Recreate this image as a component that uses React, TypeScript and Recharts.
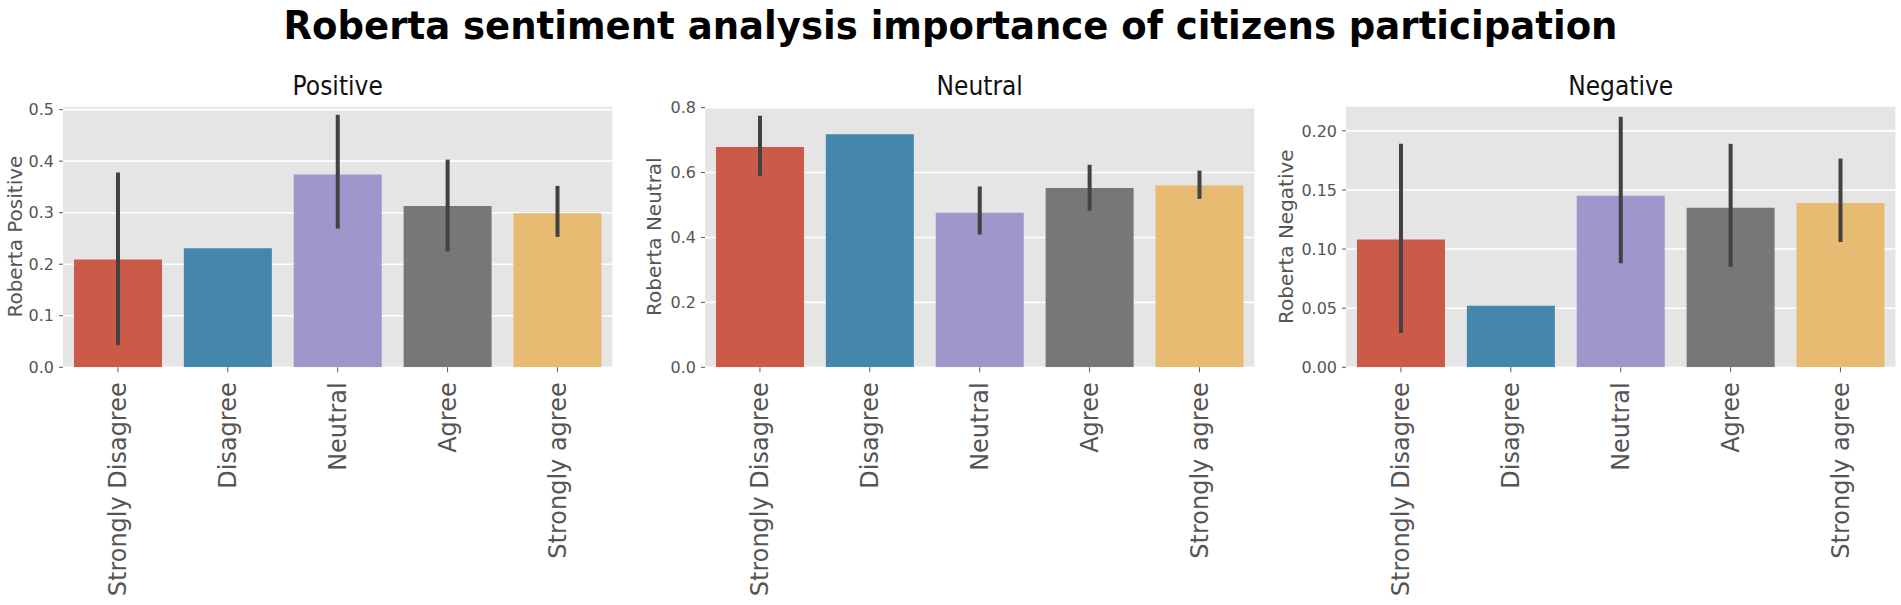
import React from "react";
import { BarChart, Bar, XAxis, YAxis, CartesianGrid, ErrorBar, Cell } from "recharts";

const categories = ["Strongly Disagree", "Disagree", "Neutral", "Agree", "Strongly agree"];
const barColors = ["#CC5A49", "#4586AC", "#9E97CC", "#777777", "#E7BC72"];

// mean score per answer, with the lower / upper end of the error bar
const positiveMean = [0.209, 0.231, 0.374, 0.313, 0.299];
const positiveLow = [0.043, 0.231, 0.269, 0.225, 0.253];
const positiveHigh = [0.378, 0.231, 0.49, 0.403, 0.352];

const neutralMean = [0.679, 0.718, 0.476, 0.552, 0.56];
const neutralLow = [0.59, 0.718, 0.409, 0.483, 0.519];
const neutralHigh = [0.775, 0.718, 0.557, 0.624, 0.606];

const negativeMean = [0.108, 0.052, 0.145, 0.135, 0.139];
const negativeLow = [0.029, 0.052, 0.088, 0.085, 0.106];
const negativeHigh = [0.189, 0.052, 0.212, 0.189, 0.1765];

const positiveTicks = [0, 0.1, 0.2, 0.3, 0.4, 0.5];
const neutralTicks = [0, 0.2, 0.4, 0.6, 0.8];
const negativeTicks = [0, 0.05, 0.1, 0.15, 0.2];

const FONT = "DejaVu Sans";
const H = 605;
const PLOT_TOP = 106;
const PLOT_BOTTOM = 367.3;
const PLOT_W = 549.4;
const AXIS_W = 75;

const buildRows = (mean: number[], low: number[], high: number[]) =>
  categories.map((name, i) => ({
    name,
    value: mean[i],
    err: [mean[i] - low[i], high[i] - mean[i]],
  }));

const XTick = (props: any) => {
  const { x, y, payload } = props;
  return (
    <text
      x={x}
      y={y}
      dy="0.35em"
      transform={`rotate(-90 ${x} ${y})`}
      textAnchor="end"
      fill="#555555"
      fontSize={24}
      fontFamily={FONT}
    >
      {payload.value}
    </text>
  );
};

type PanelProps = {
  title: string;
  yLabel: string;
  rows: { name: string; value: number; err: number[] }[];
  ticks: number[];
  top: number;
  decimals: number;
  plotLeft: number;
  labelX: number;
};

function Panel({ title, yLabel, rows, ticks, top, decimals, plotLeft, labelX }: PanelProps) {
  const left = plotLeft - AXIS_W;
  const midY = (PLOT_TOP + PLOT_BOTTOM) / 2;
  return (
    <>
      <div
        style={{
          position: "absolute",
          left: plotLeft,
          width: PLOT_W,
          top: 73.3,
          fontSize: 26,
          lineHeight: "26px",
          textAlign: "center",
          color: "#111",
          transform: "scaleX(0.9)",
        }}
      >
        {title}
      </div>
      <div style={{ position: "absolute", left, top: 0 }}>
        <BarChart
          width={AXIS_W + PLOT_W + 5}
          height={H}
          data={rows}
          margin={{ top: PLOT_TOP, right: 5, bottom: 0, left: 0 }}
          barCategoryGap="10%"
        >
          <CartesianGrid vertical={false} fill="#E5E5E5" stroke="#ffffff" strokeWidth={1.6} />
          <XAxis
            dataKey="name"
            interval={0}
            height={H - PLOT_BOTTOM}
            axisLine={false}
            tickLine={{ stroke: "#555555" }}
            tickSize={5}
            tickMargin={10}
            tick={<XTick />}
          />
          <YAxis
            type="number"
            width={AXIS_W}
            domain={[0, top]}
            ticks={ticks}
            allowDataOverflow
            axisLine={false}
            tickLine={{ stroke: "#555555" }}
            tickSize={4}
            tickMargin={5}
            tick={{ fill: "#555555", fontSize: 16, fontFamily: FONT }}
            tickFormatter={(v: number) => v.toFixed(decimals)}
            label={() => (
              <text
                x={labelX - left}
                y={midY}
                dy="0.35em"
                transform={`rotate(-90 ${labelX - left} ${midY})`}
                textAnchor="middle"
                fill="#555555"
                fontSize={20}
                fontFamily={FONT}
              >
                {yLabel}
              </text>
            )}
          />
          <Bar dataKey="value" isAnimationActive={false}>
            {rows.map((r, i) => (
              <Cell key={r.name} fill={barColors[i]} />
            ))}
            <ErrorBar
              dataKey="err"
              direction="y"
              width={0}
              stroke="#424242"
              strokeWidth={4}
              isAnimationActive={false}
            />
          </Bar>
        </BarChart>
      </div>
    </>
  );
}

export default function App() {
  return (
    <div
      style={{
        position: "absolute",
        left: 0,
        top: 0,
        width: 1901,
        height: H,
        background: "#ffffff",
        fontFamily: FONT,
        overflow: "hidden",
      }}
    >
      <div
        style={{
          position: "absolute",
          left: 0,
          width: 1901,
          top: 6.3,
          fontSize: 39,
          lineHeight: "39px",
          fontWeight: "bold",
          textAlign: "center",
          color: "#000",
          transform: "scaleX(0.95)",
        }}
      >
        Roberta sentiment analysis importance of citizens participation
      </div>
      <Panel
        title="Positive"
        yLabel="Roberta Positive"
        rows={buildRows(positiveMean, positiveLow, positiveHigh)}
        ticks={positiveTicks}
        top={0.507}
        decimals={1}
        plotLeft={63.3}
        labelX={15.5}
      />
      <Panel
        title="Neutral"
        yLabel="Roberta Neutral"
        rows={buildRows(neutralMean, neutralLow, neutralHigh)}
        ticks={neutralTicks}
        top={0.805}
        decimals={1}
        plotLeft={705}
        labelX={654}
      />
      <Panel
        title="Negative"
        yLabel="Roberta Negative"
        rows={buildRows(negativeMean, negativeLow, negativeHigh)}
        ticks={negativeTicks}
        top={0.221}
        decimals={2}
        plotLeft={1346}
        labelX={1285.6}
      />
    </div>
  );
}
